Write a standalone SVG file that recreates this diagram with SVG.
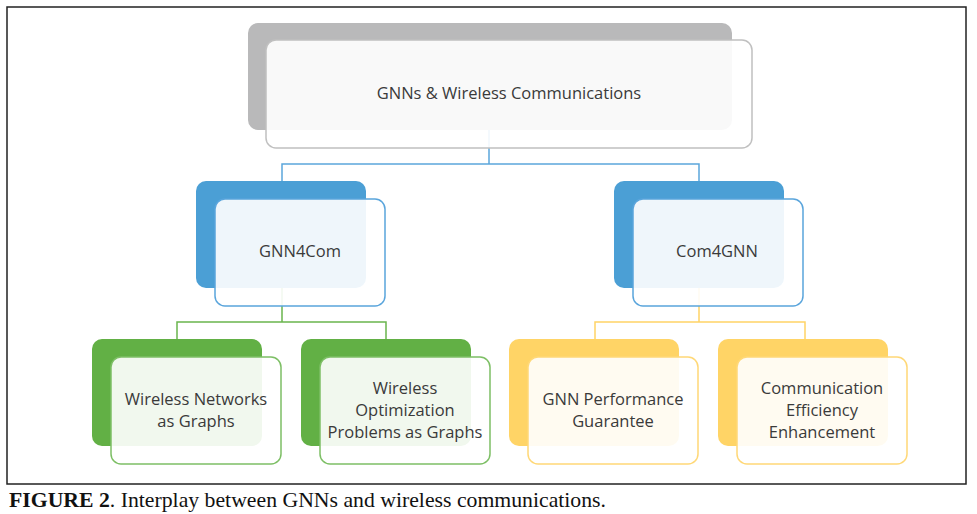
<svg xmlns="http://www.w3.org/2000/svg" width="977" height="514" viewBox="0 0 977 514">
<style>
.lbl{font-family:"Open Sans","Liberation Sans",sans-serif;font-size:16.5px;fill:#3a3a3a;text-anchor:middle}
.cap{font-family:"Liberation Serif",serif;font-size:21px;fill:#111}
.back{stroke:none}
.front{fill:#ffffff;fill-opacity:0.91;stroke-width:1.5}
.c{fill:none;stroke-width:1.5}
</style>
<rect x="0" y="0" width="977" height="514" fill="#ffffff"/>
<rect x="7" y="7" width="959" height="477" fill="none" stroke="#222" stroke-width="1.5"/>
<g id="connectors">
<path class="c" stroke="#5ba6dc" d="M489,130 V164 M282,181 V164 H699 V181"/>
<path class="c" stroke="#6ab54d" d="M282,288 V322 M177,340 V322 H386 V340"/>
<path class="c" stroke="#ffd466" d="M699,288 V322 M595,340 V322 H805 V340"/>
</g>
<g id="root">
<rect class="back" x="248" y="23" width="484" height="107" rx="10" fill="#b9b9ba"/>
<rect class="front" x="266" y="40" width="486" height="108" rx="10" stroke="#c0c0c0"/>
<text class="lbl" x="509" y="99">GNNs &amp; Wireless Communications</text>
</g>
<g id="gnn4com">
<rect class="back" x="196" y="181" width="170" height="107" rx="10" fill="#4b9fd5"/>
<rect class="front" x="215" y="199" width="170" height="107" rx="10" stroke="#5aa5dc"/>
<text class="lbl" x="300" y="257">GNN4Com</text>
</g>
<g id="com4gnn">
<rect class="back" x="614" y="181" width="170" height="107" rx="10" fill="#4b9fd5"/>
<rect class="front" x="633" y="199" width="170" height="107" rx="10" stroke="#5aa5dc"/>
<text class="lbl" x="717" y="257">Com4GNN</text>
</g>
<g id="wireless-networks">
<rect class="back" x="92" y="339" width="170" height="107" rx="10" fill="#62b045"/>
<rect class="front" x="111" y="357" width="170" height="107" rx="10" stroke="#7dbf65"/>
<text class="lbl" x="196" y="405">Wireless Networks</text>
<text class="lbl" x="196" y="427">as Graphs</text>
</g>
<g id="wireless-optimization">
<rect class="back" x="301" y="339" width="170" height="107" rx="10" fill="#62b045"/>
<rect class="front" x="320" y="357" width="170" height="107" rx="10" stroke="#7dbf65"/>
<text class="lbl" x="405" y="394">Wireless</text>
<text class="lbl" x="405" y="416">Optimization</text>
<text class="lbl" x="405" y="438">Problems as Graphs</text>
</g>
<g id="gnn-performance">
<rect class="back" x="509" y="339" width="170" height="107" rx="10" fill="#ffd466"/>
<rect class="front" x="528" y="357" width="170" height="107" rx="10" stroke="#ffd877"/>
<text class="lbl" x="613" y="405">GNN Performance</text>
<text class="lbl" x="613" y="427">Guarantee</text>
</g>
<g id="communication-efficiency">
<rect class="back" x="718" y="339" width="170" height="107" rx="10" fill="#ffd466"/>
<rect class="front" x="737" y="357" width="170" height="107" rx="10" stroke="#ffd877"/>
<text class="lbl" x="822" y="394">Communication</text>
<text class="lbl" x="822" y="416">Efficiency</text>
<text class="lbl" x="822" y="438">Enhancement</text>
</g>
<text class="cap" x="9" y="507" textLength="597" lengthAdjust="spacingAndGlyphs"><tspan font-weight="bold">FIGURE 2</tspan>. Interplay between GNNs and wireless communications.</text>
</svg>
